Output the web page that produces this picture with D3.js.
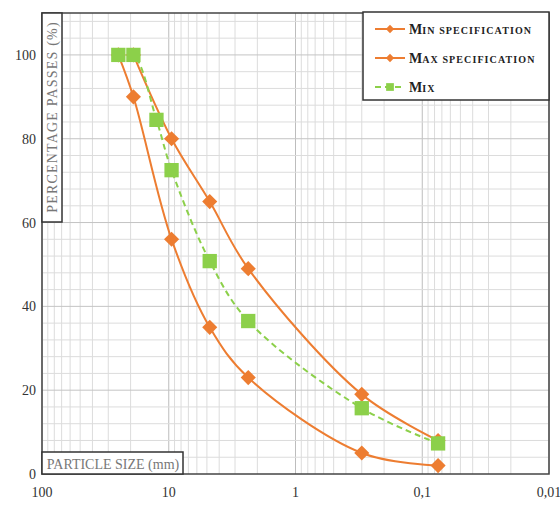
<!DOCTYPE html>
<html>
<head>
<meta charset="utf-8">
<script src="https://cdn.jsdelivr.net/npm/d3@7"></script>
<style>
  body { margin: 0; background: #fff; }
  text { font-family: "Liberation Serif", "DejaVu Serif", serif; }
</style>
</head>
<body>
<script>
// sieve sizes (mm) and percentage passing
var sizesMix = [25, 19, 12.5, 9.5, 4.75, 2.36, 0.3, 0.075];
var mix      = [100, 100, 84.5, 72.5, 50.8, 36.5, 15.7, 7.3];

var sizesMin = [25, 19, 9.5, 4.75, 2.36, 0.3, 0.075];
var minSpec  = [100, 90, 56, 35, 23, 5, 2];

var sizesMax = [19, 9.5, 4.75, 2.36, 0.3, 0.075];
var maxSpec  = [100, 80, 65, 49, 19, 8];

var xTicks = [100, 10, 1, 0.1, 0.01];
var xTickLabels = ["100", "10", "1", "0,1", "0,01"];
var yTicks = [0, 20, 40, 60, 80, 100];

var legendNames = ["Min specification", "Max specification", "Mix"];

var width = 560, height = 505;
var pLeft = 42, pRight = 549, pTop = 13, pBottom = 474;

var orange = "#ed7d31", green = "#8cd04a";

var svg = d3.select("body").append("svg")
  .attr("width", width)
  .attr("height", height);

var x = d3.scaleLog().domain([100, 0.01]).range([pLeft, pRight]);
var y = d3.scaleLinear().domain([0, 110]).range([pBottom, pTop]);

// grid
var grid = svg.append("g").attr("class", "grid");
var minorX = [];
[10, 1, 0.1, 0.01].forEach(function(d) {
  for (var k = 2; k <= 9; k++) minorX.push(d * k);
});
grid.selectAll("line.vx")
  .data(minorX)
  .enter().append("line")
  .attr("x1", d => x(d)).attr("x2", d => x(d))
  .attr("y1", pTop).attr("y2", pBottom)
  .style("stroke", "#dcdcdc")
  .style("stroke-width", 1);
grid.selectAll("line.vmaj")
  .data(xTicks)
  .enter().append("line")
  .attr("x1", d => x(d)).attr("x2", d => x(d))
  .attr("y1", pTop).attr("y2", pBottom)
  .style("stroke", "#bdbdbd")
  .style("stroke-width", 1);
grid.selectAll("line.hy")
  .data(d3.range(4, 110, 4))
  .enter().append("line")
  .attr("x1", pLeft).attr("x2", pRight)
  .attr("y1", d => y(d)).attr("y2", d => y(d))
  .style("stroke", d => d % 20 === 0 ? "#c4c4c4" : "#dcdcdc")
  .style("stroke-width", 1);

// frame
svg.append("rect")
  .attr("x", pLeft).attr("y", pTop)
  .attr("width", pRight - pLeft).attr("height", pBottom - pTop)
  .style("fill", "none")
  .style("stroke", "#444")
  .style("stroke-width", 1.5);

// tick labels
svg.selectAll("text.xt")
  .data(xTicks)
  .enter().append("text")
  .attr("x", d => x(d))
  .attr("y", 497)
  .attr("text-anchor", "middle")
  .style("font-size", "14px")
  .style("fill", "#333")
  .text((d, i) => xTickLabels[i]);

svg.selectAll("text.yt")
  .data(yTicks)
  .enter().append("text")
  .attr("x", 36)
  .attr("y", d => y(d) + 5)
  .attr("text-anchor", "end")
  .style("font-size", "14px")
  .style("fill", "#333")
  .text(d => d);

// axis title boxes
svg.append("rect")
  .attr("x", pLeft).attr("y", pTop)
  .attr("width", 20).attr("height", 209)
  .style("fill", "#fff")
  .style("stroke", "#333")
  .style("stroke-width", 1.5);
svg.append("text")
  .attr("transform", "translate(" + (pLeft + 15) + "," + (pTop + 104) + ") rotate(-90)")
  .attr("text-anchor", "middle")
  .style("font-size", "14px")
  .style("letter-spacing", "1.2px")
  .style("fill", "#777")
  .text("PERCENTAGE PASSES (%)");

svg.append("rect")
  .attr("x", pLeft).attr("y", 452)
  .attr("width", 141).attr("height", pBottom - 452)
  .style("fill", "#fff")
  .style("stroke", "#333")
  .style("stroke-width", 1.5);
svg.append("text")
  .attr("x", pLeft + 71)
  .attr("y", 469)
  .attr("text-anchor", "middle")
  .style("font-size", "14px")
  .style("fill", "#777")
  .text("PARTICLE SIZE (mm)");

// series
var line = d3.line()
  .x(d => x(d[0]))
  .y(d => y(d[1]))
  .curve(d3.curveCatmullRom.alpha(0.5));

var series = [
  { name: legendNames[0], pts: d3.zip(sizesMin, minSpec), color: orange, dash: null, shape: "diamond" },
  { name: legendNames[1], pts: d3.zip(sizesMax, maxSpec), color: orange, dash: null, shape: "diamond" },
  { name: legendNames[2], pts: d3.zip(sizesMix, mix), color: green, dash: "6,4", shape: "square" }
];

var plot = svg.append("g").attr("class", "series");

series.forEach(function(s) {
  plot.append("path")
    .datum(s.pts)
    .attr("d", line)
    .style("fill", "none")
    .style("stroke", s.color)
    .style("stroke-width", 2)
    .style("stroke-dasharray", s.dash);
});

series.forEach(function(s, si) {
  var sym = d3.symbol()
    .type(s.shape === "square" ? d3.symbolSquare : d3.symbolDiamond)
    .size(s.shape === "square" ? 205 : 66);
  plot.selectAll("path.m" + si)
    .data(s.pts)
    .enter().append("path")
    .attr("class", "m" + si)
    .attr("transform", d => "translate(" + x(d[0]) + "," + y(d[1]) + ")" + (s.shape === "diamond" ? " scale(1.73,1)" : ""))
    .attr("d", sym)
    .style("fill", s.color);
});

// legend
var legend = svg.append("g").attr("class", "legend");
legend.append("rect")
  .attr("x", 363).attr("y", 12)
  .attr("width", 186).attr("height", 88)
  .style("fill", "#fff")
  .style("stroke", "#333")
  .style("stroke-width", 1.5);

var item = legend.selectAll("g.item")
  .data(series)
  .enter().append("g")
  .attr("transform", (d, i) => "translate(0," + (29 + i * 29) + ")");

item.append("line")
  .attr("x1", 375).attr("x2", 405)
  .attr("y1", 0).attr("y2", 0)
  .style("stroke", d => d.color)
  .style("stroke-width", 2)
  .style("stroke-dasharray", d => d.dash);

item.append("path")
  .attr("transform", d => "translate(390,0)" + (d.shape === "diamond" ? " scale(1.73,1)" : ""))
  .attr("d", d => d3.symbol().type(d.shape === "square" ? d3.symbolSquare : d3.symbolDiamond).size(d.shape === "square" ? 60 : 20)())
  .style("fill", d => d.color);

var lt = item.append("text")
  .attr("x", 409)
  .attr("y", 5)
  .style("font-weight", "bold")
  .style("fill", "#222");
lt.append("tspan")
  .style("font-size", "14px")
  .text(d => d.name.charAt(0));
lt.append("tspan")
  .style("font-size", "10px")
  .style("letter-spacing", "1.1px")
  .text(d => d.name.slice(1).toUpperCase());
</script>
</body>
</html>
